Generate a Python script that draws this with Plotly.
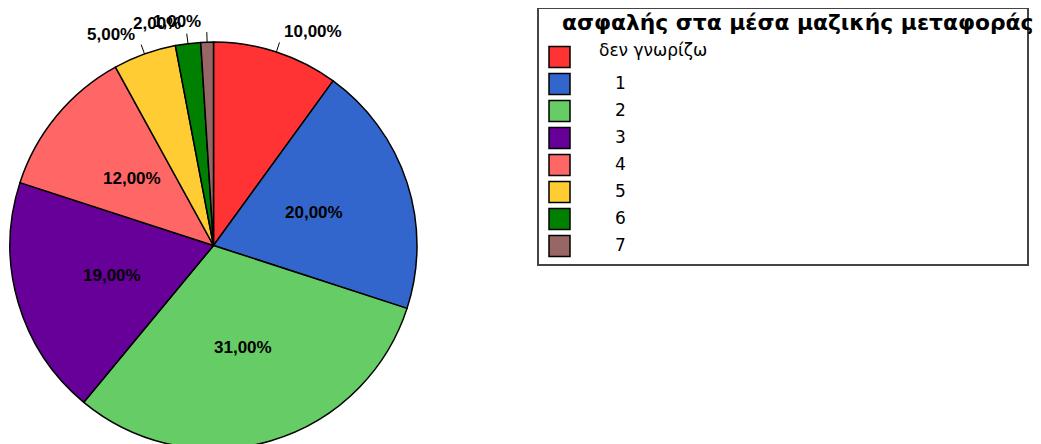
import math
import plotly.graph_objects as go

# ---- data ----
labels = ["δεν γνωρίζω", "1", "2", "3", "4", "5", "6", "7"]
values = [10, 20, 31, 19, 12, 5, 2, 1]
colors = ["#FF3333", "#3366CC", "#66CC66", "#660099", "#FF6666", "#FFCC33", "#008000", "#996666"]
legend_title = "ασφαλής στα μέσα μαζικής μεταφοράς"

# ---- layout geometry (screen pixels) ----
W, H = 1041, 444
OFF = 8  # default page body margin
CX, CY, R = 213.5, 245.5, 203.5
FONT = "Liberation Sans, Arial, sans-serif"
LFONT = "DejaVu Sans, sans-serif"


def px(x):
    return (x - OFF) / W


def py(y):
    return 1 - (y - OFF) / H


fig = go.Figure()
fig.add_trace(go.Pie(
    labels=labels,
    values=values,
    sort=False,
    direction="clockwise",
    rotation=0,
    marker=dict(colors=colors, line=dict(color="black", width=1.5)),
    textinfo="none",
    hoverinfo="label+percent",
    showlegend=False,
    domain=dict(x=[px(CX - R), px(CX + R)], y=[py(CY + R), py(CY - R)]),
))

annotations = []
shapes = []
total = sum(values)
cum = 0
for lab, v in zip(labels, values):
    theta = 2 * math.pi * (cum + v / 2) / total
    cum += v
    s, c = math.sin(theta), math.cos(theta)
    txt = f"{100 * v / total:.2f}%".replace(".", ",")
    if v > 10:
        r = 0.52 * R
        annotations.append(dict(
            x=px(CX + r * s), y=py(CY - r * c), xref="paper", yref="paper",
            text=f"<b>{txt}</b>", showarrow=False, xanchor="center", yanchor="middle",
            font=dict(family=FONT, size=17, color="black"),
        ))
    else:
        x0, y0 = CX + R * s, CY - R * c
        x1, y1 = CX + (R + 10) * s, CY - (R + 10) * c
        shapes.append(dict(type="line", xref="paper", yref="paper",
                           x0=px(x0), y0=py(y0), x1=px(x1), y1=py(y1),
                           line=dict(color="black", width=1)))
        right = s >= 0
        annotations.append(dict(
            x=px(x1), y=py(y1), xref="paper", yref="paper",
            text=f"<b>{txt}</b>", showarrow=False,
            xanchor="left" if right else "right", yanchor="bottom",
            xshift=3 if right else -4, yshift=-1,
            font=dict(family=FONT, size=17, color="black"),
        ))

# ---- manual legend ----
LX0, LY0, LX1, LY1 = 538, 8, 1028, 265
shapes.append(dict(type="rect", xref="paper", yref="paper",
                   x0=px(LX0), y0=py(LY0), x1=px(LX1), y1=py(LY1),
                   line=dict(color="#444444", width=2), fillcolor="rgba(0,0,0,0)"))
annotations.append(dict(
    x=px(560), y=py(23), xref="paper", yref="paper", text=f"<b>{legend_title}</b>",
    showarrow=False, xanchor="left", yanchor="middle",
    font=dict(family=LFONT, size=21.8, color="black"),
))
ROW0, STEP, SW = 57, 27, 21
for i, (lab, col) in enumerate(zip(labels, colors)):
    yc = ROW0 + STEP * i
    shapes.append(dict(type="rect", xref="paper", yref="paper",
                       x0=px(549), x1=px(549 + SW), y0=py(yc - SW / 2), y1=py(yc + SW / 2),
                       line=dict(color="black", width=1.5), fillcolor=col))
    is_num = lab.isdigit()
    annotations.append(dict(
        x=px(613 if is_num else 597), y=py(yc - 1 if is_num else yc - 7),
        xref="paper", yref="paper", text=lab, showarrow=False,
        xanchor="left", yanchor="middle",
        font=dict(family=LFONT, size=17, color="black"),
    ))

fig.update_layout(
    width=W, height=H,
    margin=dict(l=0, r=0, t=0, b=0),
    paper_bgcolor="white", plot_bgcolor="white",
    annotations=annotations, shapes=shapes,
    showlegend=False,
)

fig.write_html("out.html")
